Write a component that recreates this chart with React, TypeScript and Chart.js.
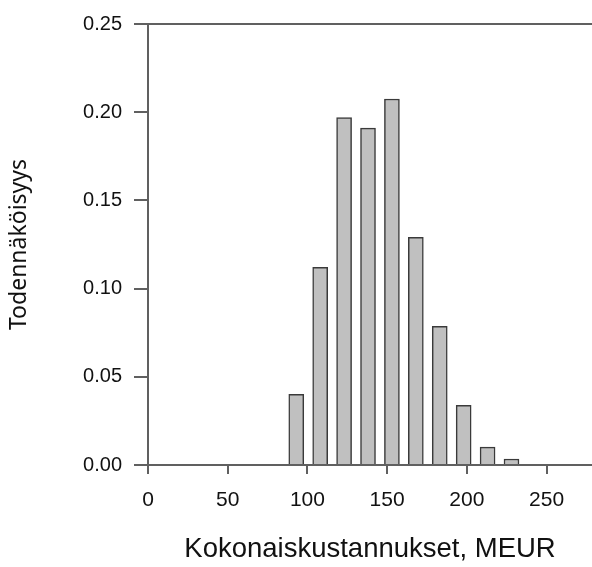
import React, { useEffect, useRef } from "react";
import { Chart, registerables } from "chart.js";

Chart.register(...registerables);

const binCenters = [93, 108, 123, 138, 153, 168, 183, 198, 213, 228];
const probabilities = [0.04, 0.112, 0.197, 0.191, 0.2075, 0.129, 0.0786, 0.0338, 0.0101, 0.0034];
const xTitle = "Kokonaiskustannukset, MEUR";
const yTitle = "Todennäköisyys";
const xMin = 0;
const xMax = 278.5;
const xStep = 50;
const yMin = 0;
const yMax = 0.25;
const yStep = 0.05;

const AXIS = "#606060";
const TEXT = "#111111";

const topLine = {
  id: "topLine",
  afterDraw(chart: any) {
    const { ctx, chartArea } = chart;
    ctx.save();
    ctx.strokeStyle = AXIS;
    ctx.lineWidth = 2;
    ctx.beginPath();
    ctx.moveTo(chartArea.left, chartArea.top);
    ctx.lineTo(chartArea.right, chartArea.top);
    ctx.stroke();
    ctx.restore();
  },
};

export default function App() {
  const ref = useRef<HTMLCanvasElement | null>(null);

  useEffect(() => {
    if (!ref.current) return;
    const chart = new Chart(ref.current, {
      type: "bar",
      data: {
        datasets: [
          {
            data: binCenters.map((x, i) => ({ x, y: probabilities[i] })),
            backgroundColor: "#c0c0c0",
            borderColor: "#3a3a3a",
            borderWidth: 1.5,
            barThickness: 15,
          },
        ],
      },
      options: {
        responsive: false,
        animation: false,
        layout: { padding: { top: 19, left: 0, right: 0, bottom: 0 } },
        plugins: { legend: { display: false }, tooltip: { enabled: false } },
        scales: {
          x: {
            type: "linear",
            position: "bottom",
            min: xMin,
            max: xMax,
            offset: false,
            afterFit: (s: any) => {
              s.height = 102;
            },
            grid: {
              display: true,
              offset: false,
              drawOnChartArea: false,
              drawTicks: true,
              tickLength: 9,
              color: AXIS,
              lineWidth: 2,
            },
            border: { display: true, color: AXIS, width: 2 },
            ticks: {
              stepSize: xStep,
              includeBounds: false,
              padding: 14,
              color: TEXT,
              maxRotation: 0,
              autoSkip: false,
              font: { family: "'Liberation Sans', Arial", size: 21 },
              callback: (v: any) => String(v),
            },
            title: {
              display: true,
              text: xTitle,
              color: TEXT,
              font: { family: "'Liberation Sans', Arial", size: 27.5 },
              padding: { top: 0, bottom: 1 },
            },
          },
          y: {
            type: "linear",
            min: yMin,
            max: yMax,
            afterFit: (s: any) => {
              s.width = 148;
            },
            grid: {
              display: true,
              drawOnChartArea: false,
              drawTicks: true,
              tickLength: 14,
              color: AXIS,
              lineWidth: 2,
            },
            border: { display: true, color: AXIS, width: 2 },
            ticks: {
              stepSize: yStep,
              padding: 12,
              color: TEXT,
              font: { family: "'Liberation Sans', Arial", size: 20 },
              callback: (v: any) => Number(v).toFixed(2),
            },
            title: {
              display: true,
              text: yTitle,
              color: TEXT,
              font: { family: "'Noto Sans', 'Open Sans', sans-serif", size: 23 },
              padding: { top: 6, bottom: 0 },
            },
          },
        },
      },
      plugins: [topLine],
    });
    return () => chart.destroy();
  }, []);

  return (
    <div style={{ position: "absolute", left: 0, top: 0, width: 592, height: 567, background: "#fff" }}>
      <canvas ref={ref} width={592} height={567} style={{ display: "block" }} />
    </div>
  );
}
